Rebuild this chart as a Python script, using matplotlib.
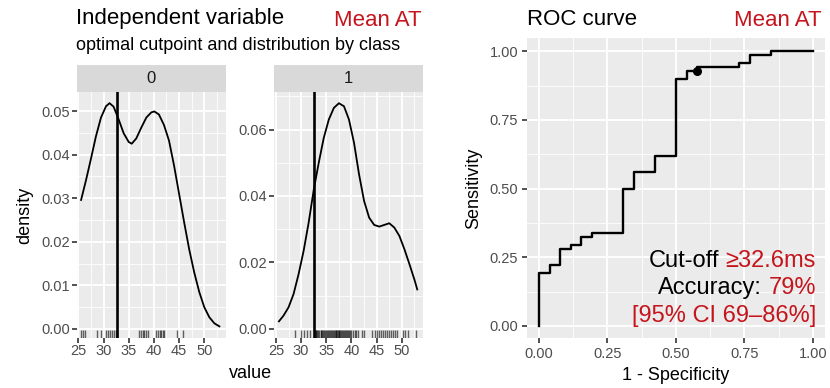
import matplotlib
matplotlib.use("Agg")
import matplotlib.pyplot as plt
from matplotlib.ticker import MultipleLocator, FormatStrFormatter

plt.rcParams['font.family'] = ['Liberation Sans', 'DejaVu Sans']

W, H = 830, 388

# density curves (class 0 and class 1)
dens0_x = [25.55, 26.5, 27.5, 28.5, 29.5, 30.5, 31.2, 32.0, 33.0, 34.0, 35.0, 35.6,
           36.5, 37.5, 38.5, 39.5, 40.1, 41.0, 42.0, 43.0, 44.0, 45.0, 46.0, 47.0,
           48.0, 49.0, 50.0, 51.0, 52.0, 53.0]
dens0_y = [0.0296, 0.0340, 0.0390, 0.0442, 0.0485, 0.0511, 0.0518, 0.0510, 0.0481,
           0.0449, 0.0429, 0.0425, 0.0437, 0.0462, 0.0485, 0.0497, 0.0499, 0.0492,
           0.0468, 0.0432, 0.0375, 0.0310, 0.0245, 0.0183, 0.0130, 0.0085, 0.0050,
           0.0027, 0.0013, 0.0006]

dens1_x = [25.6, 26.5, 27.5, 28.5, 29.5, 30.5, 31.5, 32.5, 33.5, 34.5, 35.5, 36.5,
           37.5, 38.5, 39.5, 40.5, 41.5, 42.5, 43.5, 44.5, 45.5, 46.5, 47.5, 48.5,
           49.5, 50.5, 51.5, 52.5, 53.05]
dens1_y = [0.0023, 0.0040, 0.0065, 0.0105, 0.0165, 0.0235, 0.0320, 0.0418, 0.0500,
           0.0575, 0.0630, 0.0665, 0.0679, 0.0670, 0.0630, 0.0560, 0.0465, 0.0385,
           0.0335, 0.0313, 0.0308, 0.0313, 0.0318, 0.0305, 0.0280, 0.0240, 0.0195,
           0.0148, 0.0119]

# observations shown in the rugs
rug0 = [25.6, 26.0, 26.4, 28.8, 29.5, 30.4, 30.8, 31.2, 31.6, 32.0, 32.4,
        32.7, 37.0, 37.4, 37.8, 38.1, 38.5, 38.8, 40.5, 40.9, 41.2, 41.5, 41.8,
        42.1, 44.6, 45.8]
rug1 = [28.8, 29.9, 30.6, 31.1, 31.8,
        32.7, 32.9, 33.0, 33.2, 33.4, 33.6, 33.9, 34.0, 34.1, 34.3, 34.6, 34.8,
        35.0, 35.1, 35.3, 35.5, 35.8, 36.0, 36.2, 36.4, 36.5, 36.7, 36.9, 37.0,
        37.1, 37.3, 37.5, 37.6, 37.8, 38.0, 38.1, 38.3, 38.5, 38.8, 39.0, 39.2,
        39.3, 39.5, 39.7, 40.0, 40.3, 40.6, 40.9, 41.2, 42.1, 42.5, 44.1, 44.6,
        45.0, 45.4, 45.8, 46.2, 46.6, 47.0, 47.4, 47.8, 48.2, 48.6, 49.0, 50.3,
        50.6, 51.3, 52.8]
cutoff = 32.6

# ROC curve as counts of false / true positives
n_neg, n_pos = 26, 68
fp_counts = [0, 0, 1, 2, 3, 4, 5, 8, 9, 11, 13, 14, 15, 19, 20, 22, 26]
tp_counts = [0, 13, 15, 19, 20, 22, 23, 34, 38, 42, 61, 63, 64, 65, 67, 68, 68]
opt_fp, opt_tp = 15, 63

RED = '#C4141C'
BG = '#EBEBEB'
STRIP = '#D9D9D9'


def box(x0, y0, x1, y1):
    # pixel box (top-left origin) -> figure fraction
    return [x0 / W, 1 - y1 / H, (x1 - x0) / W, (y1 - y0) / H]


def fx(x):
    return x / W


def fy(y):
    return 1 - y / H


def style(ax, xmaj, xmin, ymaj, ymin, xfmt, yfmt):
    ax.set_facecolor(BG)
    for s in ax.spines.values():
        s.set_visible(False)
    ax.xaxis.set_major_locator(MultipleLocator(xmaj))
    ax.xaxis.set_minor_locator(MultipleLocator(xmin))
    ax.yaxis.set_major_locator(MultipleLocator(ymaj))
    ax.yaxis.set_minor_locator(MultipleLocator(ymin))
    ax.xaxis.set_major_formatter(FormatStrFormatter(xfmt))
    ax.yaxis.set_major_formatter(FormatStrFormatter(yfmt))
    ax.grid(which='major', color='white', lw=1.3)
    ax.grid(which='minor', color='white', lw=0.6)
    ax.set_axisbelow(True)
    ax.tick_params(which='major', length=3.5, width=1.2, color='#333333',
                   labelcolor='#4D4D4D', labelsize=10.5, pad=1.5)
    ax.tick_params(which='minor', length=0)


fig = plt.figure(figsize=(W / 100, H / 100), dpi=100)

# density facets
panels = [
    ((76.7, 91.7, 225.7, 337.5), '0', dens0_x, dens0_y, rug0, (-0.00195, 0.05443), 0.01, 0.005),
    ((274.3, 91.7, 423.3, 337.5), '1', dens1_x, dens1_y, rug1, (-0.00256, 0.07137), 0.02, 0.01),
]
for (x0, y0, x1, y1), lab, dx, dy, rug, ylim, ymaj, ymin in panels:
    ax = fig.add_axes(box(x0, y0, x1, y1))
    style(ax, 5, 2.5, ymaj, ymin, '%d', '%.2f')
    ax.set_xlim(24.68, 54.25)
    ax.set_ylim(*ylim)
    ax.plot(dx, dy, color='black', lw=1.3)
    ax.axvline(cutoff, color='black', lw=1.9)
    ax.vlines(rug, 0, 0.03, transform=ax.get_xaxis_transform(),
              color='black', alpha=0.6, lw=1.0)

    sax = fig.add_axes(box(x0, 65, x1, y0))
    sax.set_facecolor(STRIP)
    sax.set_xticks([])
    sax.set_yticks([])
    for s in sax.spines.values():
        s.set_visible(False)
    sax.text(0.5, 0.5, lab, ha='center', va='center', fontsize=12,
             color='#1A1A1A', transform=sax.transAxes)

fig.text(fx(76), fy(24), 'Independent variable', fontsize=16, ha='left', va='baseline')
fig.text(fx(422), fy(26.5), 'Mean AT', fontsize=16, color=RED, ha='right', va='baseline')
fig.text(fx(76), fy(50.5), 'optimal cutpoint and distribution by class',
         fontsize=13, ha='left', va='baseline')
fig.text(fx(25), fy(215), 'density', fontsize=13, rotation=90, ha='center', va='center')
fig.text(fx(250), fy(374), 'value', fontsize=13, ha='center', va='center')

# ROC curve
ax = fig.add_axes(box(527.3, 38.3, 825, 338.3))
style(ax, 0.25, 0.125, 0.25, 0.125, '%.2f', '%.2f')
ax.tick_params(which='major', pad=3)
ax.set_xlim(-0.0427, 1.0438)
ax.set_ylim(-0.0448, 1.0469)
fpr = [c / n_neg for c in fp_counts]
tpr = [c / n_pos for c in tp_counts]
ax.step(fpr, tpr, where='post', color='black', lw=1.7)
ax.plot([opt_fp / n_neg], [opt_tp / n_pos], 'o', color='black', ms=5.5)

fig.text(fx(527), fy(25), 'ROC curve', fontsize=16, ha='left', va='baseline')
fig.text(fx(822), fy(26.5), 'Mean AT', fontsize=16, color=RED, ha='right', va='baseline')
fig.text(fx(474), fy(188.3), 'Sensitivity', fontsize=13, rotation=90, ha='center', va='center')
fig.text(fx(676), fy(375), '1 - Specificity', fontsize=13, ha='center', va='center')

# annotation with mixed colours, right aligned
renderer = fig.canvas.get_renderer()
lines = [
    (267.3, 'Cut-off ', '\u226532.6ms'),
    (294.3, 'Accuracy: ', '79%'),
    (321.7, '', '[95% CI 69\u201386%]'),
]
x_right = 816
for yb, black, red in lines:
    fig.text(fx(x_right), fy(yb), red, fontsize=17, color=RED, ha='right', va='baseline')
    if black:
        full = fig.text(0, 0, black + red, fontsize=17)
        wfull = full.get_window_extent(renderer).width
        full.remove()
        fig.text(fx(x_right - wfull), fy(yb), black.strip(), fontsize=17,
                 color='black', ha='left', va='baseline')

fig.savefig('out.png', dpi=100)
